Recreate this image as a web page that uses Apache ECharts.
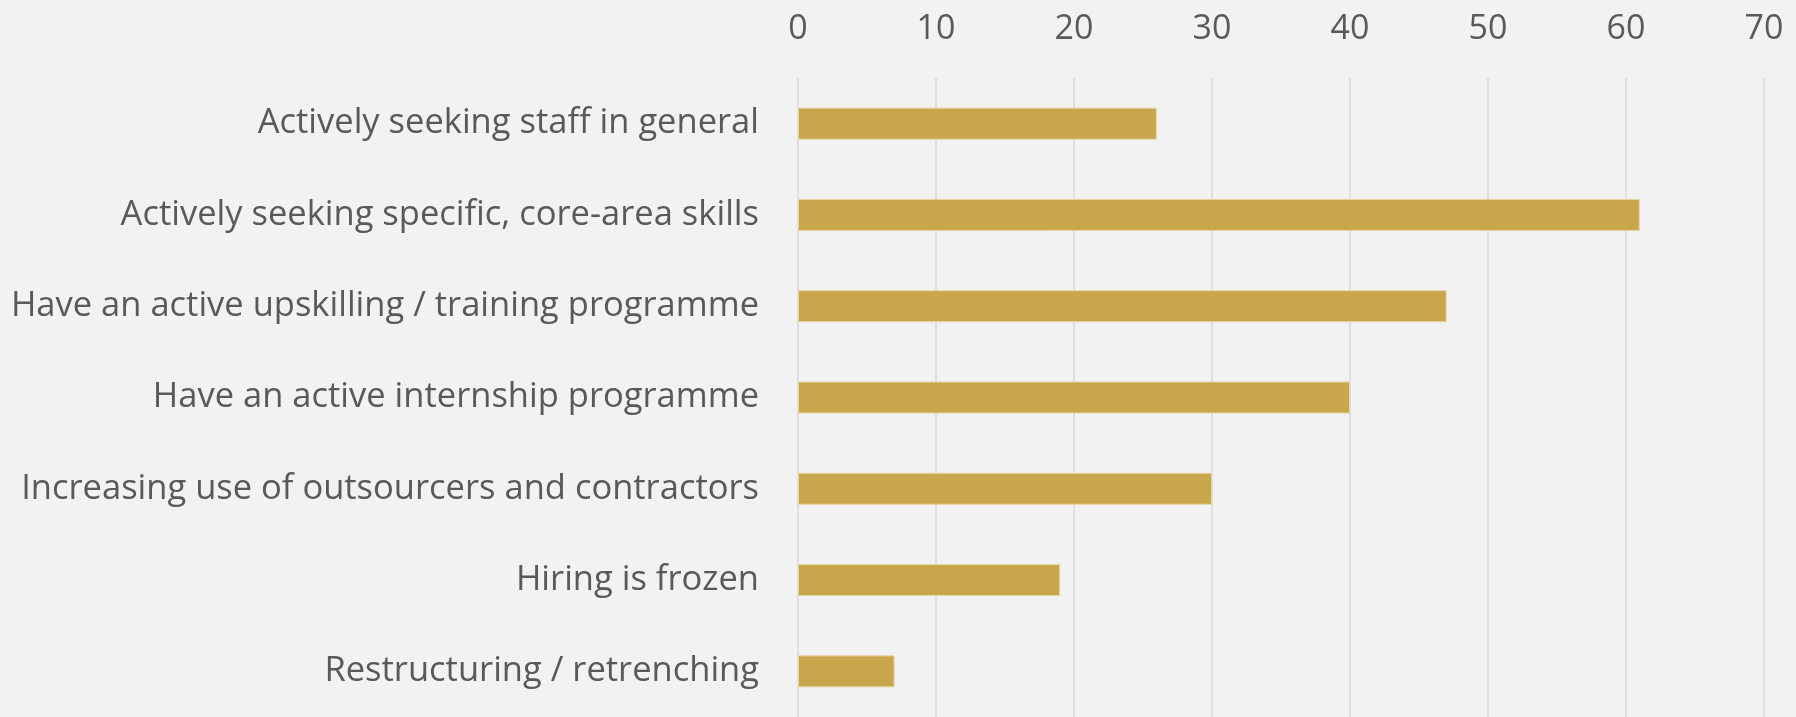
<!DOCTYPE html>
<html>
<head>
<meta charset="utf-8">
<script src="https://cdn.jsdelivr.net/npm/echarts@6/dist/echarts.min.js"></script>
<style>
html,body{margin:0;padding:0;background:#f2f2f2;}
#c{width:1796px;height:717px;}
</style>
</head>
<body>
<div id="c"></div>
<script>
const categories = [
  "Actively seeking staff in general",
  "Actively seeking specific, core-area skills",
  "Have an active upskilling / training programme",
  "Have an active internship programme",
  "Increasing use of outsourcers and contractors",
  "Hiring is frozen",
  "Restructuring / retrenching"
];
const values = [26, 61, 47, 40, 30, 19, 7];
const axisMin = 0, axisMax = 70, axisStep = 10;

const chart = echarts.init(document.getElementById('c'), null, {renderer: 'canvas'});
chart.setOption({
  backgroundColor: '#f2f2f2',
  animation: false,
  grid: {left: 798, right: 32, top: 78, height: 641, containLabel: false},
  xAxis: {
    type: 'value', position: 'top', min: axisMin, max: axisMax, interval: axisStep,
    axisLine: {show: false}, axisTick: {show: false},
    axisLabel: {color: '#595959', fontFamily: 'Open Sans', fontSize: 34, margin: 32},
    splitLine: {show: true, lineStyle: {color: '#d9d9d9', width: 1.5}}
  },
  yAxis: {
    type: 'category', data: categories, inverse: true,
    axisLine: {show: false}, axisTick: {show: false},
    axisLabel: {color: '#595959', fontFamily: 'Open Sans', fontSize: 34.5, margin: 39}
  },
  series: [{
    type: 'bar', data: values, barWidth: 32,
    itemStyle: {color: '#c9a64b', borderColor: '#e6d6a6', borderWidth: 1}
  }]
});
</script>
</body>
</html>
